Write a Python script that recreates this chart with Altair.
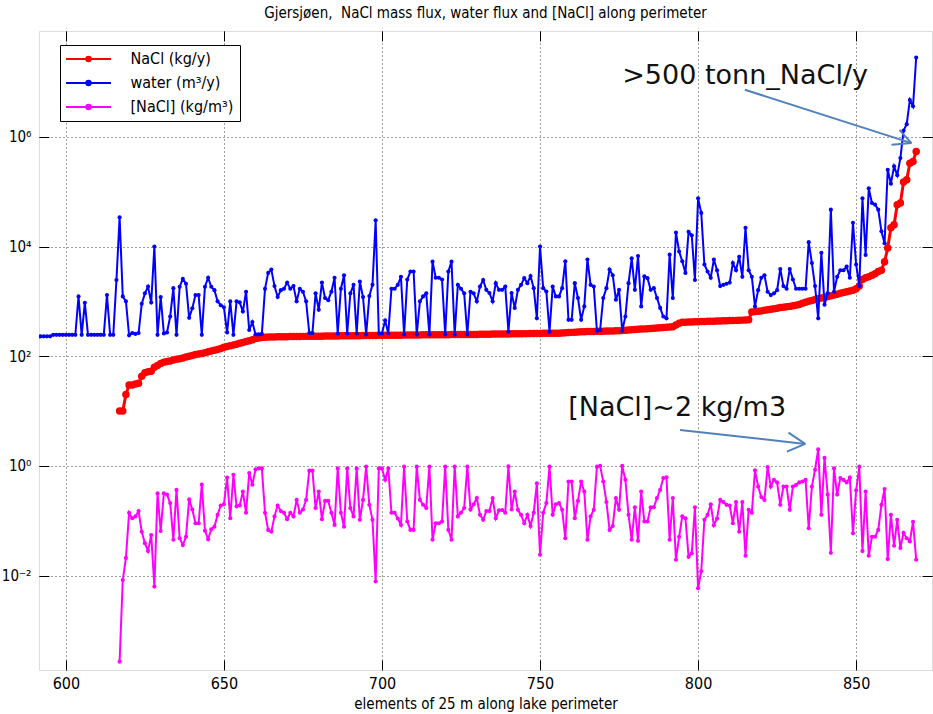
import altair as alt
import pandas as pd

FONT = "Liberation Sans Narrow, DejaVu Sans Condensed, Liberation Sans, sans-serif"
NOTE_FONT = "DejaVu Sans"

# water flux (m3/y) for elements 585..869
WATER_FIRST = 585
water = [
    230, 230, 230, 230, 230, 230, 230, 230, 230, 230,            # 585
    230, 245, 245, 245, 245, 245, 245, 245, 245, 1230,           # 595
    245, 940, 245, 245, 245, 245, 245, 245, 1300, 245,           # 605
    245, 2450, 34000, 1230, 1000, 240, 265, 255, 265, 900,       # 615
    1400, 1860, 950, 10000, 245, 1200, 260, 270, 530, 1740,      # 625
    245, 1850, 2570, 2100, 500, 750, 1300, 1300, 245, 1850,      # 635
    2700, 1850, 1600, 1000, 850, 780, 270, 1000, 245, 1000,      # 645
    960, 650, 1500, 300, 420, 250, 250, 255, 1700, 3300,         # 655
    3800, 1900, 1200, 1600, 1700, 2200, 1700, 1900, 1000, 1700,  # 665
    1500, 1000, 265, 265, 1400, 700, 2200, 1150, 1050, 1500,     # 675
    2700, 260, 1700, 3000, 260, 1400, 2000, 260, 2300, 1200,     # 685
    250, 1250, 2000, 30000, 260, 260, 450, 260, 1700, 1700,      # 695
    2000, 2800, 250, 2500, 3500, 3500, 250, 1000, 1230, 1400,    # 705
    250, 5300, 2700, 2700, 2500, 250, 3500, 5300, 250, 2000,     # 715
    1700, 1400, 250, 1500, 1400, 1000, 1860, 2450, 1620, 1420,   # 725
    1000, 2150, 1620, 1620, 1860, 280, 1420, 760, 1620, 2000,    # 735
    2650, 2150, 2900, 1740, 490, 10000, 1740, 1510, 280, 1860,   # 745
    1230, 1230, 1740, 5400, 460, 460, 2150, 1150, 460, 810,      # 755
    5800, 2000, 1860, 290, 300, 1150, 1740, 3800, 3000, 1070,    # 765
    1620, 290, 530, 2150, 6100, 1620, 6700, 810, 2850, 2650,     # 775
    1620, 1740, 1150, 760, 530, 490, 7100, 1150, 18000, 8100,    # 785
    5400, 3300, 18600, 16000, 2450, 76000, 41000, 4700, 3500, 2700,  # 795
    5800, 3700, 1900, 2000, 2100, 2200, 5000, 3700, 6500, 2800,  # 805
    22000, 3700, 2800, 810, 1600, 2700, 3000, 1500, 1300, 1400,  # 815
    1600, 3900, 1900, 1700, 3900, 2500, 1700, 1700, 1700, 1700,  # 825
    12000, 5000, 1900, 490, 7700, 870, 1400, 47000, 1500, 2800,  # 835
    3700, 3700, 4300, 2700, 27000, 4700, 1900, 76000, 7000, 115000,  # 845
    62000, 58000, 47000, 19000, 11500, 250000, 140000, 290000, 200000, 410000,  # 855
    1300000, 1700000, 4700000, 3600000, 28000000,                # 865
]

# NaCl mass flux (kg/y) for elements 617..869, sorted ascending
NACL_FIRST = 617
nacl = [
    10, 10, 20, 30, 30, 31, 32, 43, 50, 52,                      # 617
    53, 63, 68, 74, 78, 80, 82, 85, 88, 90,                      # 627
    93, 97, 100, 103, 107, 110, 112, 116, 120, 124,              # 637
    128, 132, 138, 145, 150, 155, 160, 165, 172, 178,            # 647
    185, 192, 200, 210, 215, 220, 222, 224, 225, 225,            # 657
    226, 226, 227, 227, 228, 228, 229, 229, 230, 230,            # 667
    230, 231, 231, 232, 232, 233, 233, 234, 234, 234,            # 677
    235, 235, 236, 236, 236, 237, 237, 238, 238, 238,            # 687
    239, 239, 240, 240, 240, 241, 241, 242, 242, 242,            # 697
    243, 243, 243, 244, 244, 244, 245, 245, 245, 246,            # 707
    246, 246, 247, 247, 247, 248, 248, 248, 248, 249,            # 717
    249, 249, 250, 250, 251, 251, 252, 252, 253, 253,            # 727
    254, 254, 255, 255, 256, 256, 257, 257, 258, 258,            # 737
    259, 259, 260, 260, 261, 261, 262, 262, 263, 263,            # 747
    266, 268, 270, 272, 274, 276, 278, 280, 281, 282,            # 757
    283, 284, 285, 286, 287, 288, 289, 290, 291, 295,            # 767
    298, 300, 303, 306, 309, 312, 315, 318, 321, 324,            # 777
    327, 330, 333, 336, 340, 345, 370, 400, 415, 418,            # 787
    420, 422, 424, 426, 428, 430, 432, 434, 436, 438,            # 797
    440, 442, 444, 446, 448, 450, 452, 455, 458, 460,            # 807
    640, 650, 660, 670, 690, 700, 720, 730, 750, 770,            # 817
    780, 800, 810, 830, 850, 880, 920, 960, 1000, 1040,          # 827
    1080, 1120, 1150, 1180, 1220, 1260, 1300, 1350, 1400, 1450,  # 837
    1500, 1550, 1600, 1700, 1900, 2500, 2700, 2800, 3000, 3200,  # 847
    3500, 3700, 5300, 9400, 22000, 25000, 58000, 62000, 150000, 165000,  # 857
    330000, 355000, 540000,                                      # 867
]

# NaCl concentration (kg/m3) for elements 617..869
conc = [
    0.00027, 0.0083, 0.021, 0.14, 0.111, 0.12, 0.15, 0.063, 0.039, 0.028,   # 617
    0.055, 0.0063, 0.315, 0.065, 0.315, 0.30, 0.21, 0.045, 0.365, 0.048,    # 627
    0.036, 0.051, 0.245, 0.16, 0.09, 0.09, 0.455, 0.066, 0.046, 0.07,       # 637
    0.078, 0.128, 0.19, 0.2, 0.61, 0.111, 0.69, 0.183, 0.19, 0.34,          # 647
    0.14, 0.74, 0.455, 0.87, 0.9, 0.9, 0.14, 0.068, 0.063, 0.12,            # 657
    0.19, 0.15, 0.14, 0.107, 0.14, 0.12, 0.24, 0.14, 0.16, 0.24,            # 667
    0.82, 0.82, 0.17, 0.34, 0.107, 0.23, 0.23, 0.14, 0.084, 0.9,            # 677
    0.14, 0.078, 0.9, 0.17, 0.12, 0.9, 0.104, 0.24, 0.97, 0.196,            # 687
    0.104, 0.0078, 0.9, 0.9, 0.56, 0.9, 0.14, 0.14, 0.11, 0.084,            # 697
    0.97, 0.097, 0.068, 0.068, 0.97, 0.24, 0.196, 0.171, 0.97, 0.045,       # 707
    0.09, 0.09, 0.097, 0.97, 0.068, 0.045, 0.97, 0.12, 0.14, 0.171,         # 717
    0.97, 0.16, 0.2, 0.26, 0.128, 0.104, 0.15, 0.15, 0.26, 0.111,           # 727
    0.155, 0.157, 0.14, 0.98, 0.16, 0.34, 0.158, 0.128, 0.09, 0.128,        # 737
    0.08, 0.14, 0.48, 0.024, 0.14, 0.21, 0.97, 0.128, 0.2, 0.21,            # 747
    0.158, 0.048, 0.52, 0.52, 0.111, 0.23, 0.52, 0.34, 0.045, 0.12,         # 757
    0.158, 0.97, 1.0, 0.52, 0.22, 0.068, 0.08, 0.26, 0.158, 1.0,            # 767
    0.56, 0.128, 0.045, 0.176, 0.043, 0.34, 0.097, 0.097, 0.176, 0.176,     # 777
    0.26, 0.365, 0.6, 0.62, 0.045, 0.26, 0.0195, 0.051, 0.12, 0.111,        # 787
    0.022, 0.0255, 0.176, 0.0059, 0.012, 0.104, 0.128, 0.2, 0.083, 0.11,    # 797
    0.24, 0.22, 0.195, 0.19, 0.09, 0.22, 0.063, 0.22, 0.023, 0.158,         # 807
    0.14, 0.83, 0.42, 0.27, 0.24, 0.95, 0.42, 0.556, 0.5, 0.195,            # 817
    0.42, 0.42, 0.158, 0.42, 0.45, 0.5, 0.52, 0.556, 0.073, 0.42,           # 827
    0.85, 2.0, 0.128, 1.4, 0.3, 0.026, 0.9, 0.3, 0.6, 0.556,                # 837
    0.5, 0.61, 0.059, 0.36, 0.97, 0.028, 0.34, 0.023, 0.051, 0.051,         # 847
    0.068, 0.195, 0.38, 0.02, 0.128, 0.035, 0.104, 0.032, 0.06, 0.048,      # 857
    0.042, 0.096, 0.0195,                                                   # 867
]

series_names = ["NaCl (kg/y)", "water (m³/y)", "[NaCl] (kg/m³)"]
series_colors = ["#ff0000", "#0000ff", "#ff00ff"]
x_ticks = [600, 650, 700, 750, 800, 850]
y_ticks = [1e-2, 1e0, 1e2, 1e4, 1e6]

# text notes and arrow segments (data coordinates)
notes = pd.DataFrame({
    "element": [776.0, 758.9],
    "value": [9.27e6, 8.2],
    "text": [">500 tonn_NaCl/y", "[NaCl]~2 kg/m3"],
})
arrows = pd.DataFrame({
    "element": [814.8, 863.7, 861.2, 794.3, 828.6, 828.1],
    "value": [7.2e6, 1.34e6, 7.15e5, 4.53, 4.05, 1.82],
    "element2": [867.5, 867.5, 867.5, 833.9, 833.9, 833.9],
    "value2": [7.68e5, 7.68e5, 7.68e5, 2.52, 2.52, 2.52],
})


def frame(first, values, name):
    return pd.DataFrame({
        "element": list(range(first, first + len(values))),
        "value": values,
        "series": name,
    })


df = pd.concat([
    frame(NACL_FIRST, nacl, series_names[0]),
    frame(WATER_FIRST, water, series_names[1]),
    frame(NACL_FIRST, conc, series_names[2]),
], ignore_index=True)

W, H = 893, 639
x_scale = alt.Scale(domain=[591.5, 874.0], nice=False, zero=False)
y_scale = alt.Scale(type="log", domain=[1.9e-4, 8.5e7], nice=False)
color_scale = alt.Scale(domain=series_names, range=series_colors)

y_label_expr = (
    "datum.value < 0.1 ? '10⁻²' : datum.value < 10 ? '10⁰' : "
    "datum.value < 1000 ? '10²' : datum.value < 1e5 ? '10⁴' : '10⁶'"
)

grid_style = dict(gridColor="#000000", gridDash=[1, 3], gridOpacity=0.75, gridWidth=1)

# main axes: labels + dotted grid
ax_x_main = alt.Axis(values=x_ticks, ticks=False, domain=False, grid=True,
                     labelFont=FONT, labelFontSize=16, labelColor="black", labelPadding=5,
                     title="elements of 25 m along lake perimeter", titleFont=FONT,
                     titleFontSize=15, titleFontWeight="normal", titleColor="black",
                     titlePadding=5, **grid_style)
ax_y_main = alt.Axis(values=y_ticks, ticks=False, domain=False, grid=True,
                     labelExpr=y_label_expr, labelFont=FONT, labelFontSize=15,
                     labelColor="black", labelPadding=8, title=None, **grid_style)


def tick_axis(orient, values):
    # tick-only axis pushed across the plot so its ticks point inward
    offset = -H if orient in ("top", "bottom") else -W
    return alt.Axis(orient=orient, offset=offset, values=values, labels=False,
                    grid=False, domain=False, ticks=True, tickSize=10,
                    tickColor="black", tickWidth=1, title=None)


legend_path = ("M-4.5,0H4.5M-0.45,0A0.45,0.45,0,1,1,0.45,0"
               "A0.45,0.45,0,1,1,-0.45,0")
legend = alt.Legend(orient="none", legendX=21, legendY=14, title=None,
                    fillColor="white", strokeColor="black", padding=6,
                    symbolType=legend_path, symbolSize=100, symbolStrokeWidth=2,
                    symbolOffset=14.5, labelOffset=34, rowPadding=8,
                    labelFont=FONT, labelFontSize=16, labelColor="black")


def series_layers(name, line_width, point_size, x_axis, y_axis, with_legend):
    base = alt.Chart(df).transform_filter(alt.datum.series == name)
    color = alt.Color("series:N", scale=color_scale,
                      legend=legend if with_legend else None)
    line = base.mark_line(strokeWidth=line_width, clip=True).encode(
        x=alt.X("element:Q", scale=x_scale, axis=x_axis),
        y=alt.Y("value:Q", scale=y_scale, axis=y_axis),
        color=color,
    )
    points = base.mark_circle(size=point_size, opacity=1, clip=True).encode(
        x=alt.X("element:Q", scale=x_scale, axis=None),
        y=alt.Y("value:Q", scale=y_scale, axis=None),
        color=alt.Color("series:N", scale=color_scale, legend=None),
    )
    return [line, points]


layers = []
layers += series_layers(series_names[0], 3, 56, ax_x_main, ax_y_main, True)
layers += series_layers(series_names[1], 2, 17, tick_axis("top", x_ticks),
                        tick_axis("right", y_ticks), False)
layers += series_layers(series_names[2], 2, 17, tick_axis("bottom", x_ticks),
                        tick_axis("left", y_ticks), False)

arrow_layer = alt.Chart(arrows).mark_rule(color="#4f81bd", strokeWidth=2).encode(
    x=alt.X("element:Q", scale=x_scale, axis=None),
    y=alt.Y("value:Q", scale=y_scale, axis=None),
    x2="element2:Q",
    y2="value2:Q",
)
note_layer = alt.Chart(notes).mark_text(
    align="left", baseline="alphabetic", font=NOTE_FONT, fontSize=27, color="#111111"
).encode(
    x=alt.X("element:Q", scale=x_scale, axis=None),
    y=alt.Y("value:Q", scale=y_scale, axis=None),
    text="text:N",
)

chart = alt.layer(*layers, arrow_layer, note_layer).resolve_axis(
    x="independent", y="independent"
).properties(
    width=W,
    height=H,
    padding={"left": 39, "top": 31, "right": 1, "bottom": 44},
    autosize=alt.AutoSizeParams(type="none"),
    title=alt.TitleParams(
        "Gjersjøen,\u00a0 NaCl mass flux, water flux and [NaCl] along perimeter",
        font=FONT, fontSize=15, fontWeight="normal", color="black",
        anchor="middle", offset=10,
    ),
).configure_view(stroke="black", strokeWidth=1).configure(background="white")

chart.save("out.html", embed_options={"renderer": "svg", "actions": False})
